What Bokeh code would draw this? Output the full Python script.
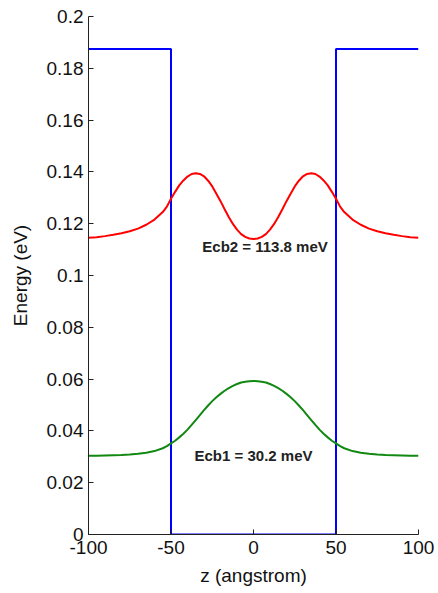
from bokeh.plotting import figure
from bokeh.models import FixedTicker, CustomJSTickFormatter, Range1d, Label
from bokeh.embed import file_html
from bokeh.resources import INLINE

# Potential well (conduction band edge)
well_z = [-100, -50, -50, 50, 50, 100]
well_e = [0.1875, 0.1875, 0.0, 0.0, 0.1875, 0.1875]

# Sampled positions (angstrom)
z = [-100, -95, -90, -85, -80, -75, -70, -65, -60, -55, -52.5, -50, -47.5, -45, -42.5, -40, -37.5,
     -35, -32.5, -30, -27.5, -25, -22.5, -20, -17.5, -15, -12.5, -10, -7.5, -5, -2.5,
     0, 2.5, 5, 7.5, 10, 12.5, 15, 17.5, 20, 22.5, 25, 27.5, 30, 32.5, 35,
     37.5, 40, 42.5, 45, 47.5, 50, 52.5, 55, 60, 65, 70, 75, 80, 85, 90, 95, 100]

# Second level (red): |psi2|^2 offset by Ecb2
ecb2 = [0.1146, 0.1148, 0.1152, 0.1157, 0.1163, 0.1171, 0.1181, 0.1196, 0.1216, 0.1245, 0.1266, 0.1296,
        0.1323, 0.1348, 0.1367, 0.1382, 0.1392, 0.1395, 0.1392, 0.1383, 0.1366, 0.1344, 0.1316,
        0.1287, 0.1256, 0.1226, 0.1199, 0.1177, 0.1160, 0.1149, 0.1143,
        0.1141,
        0.1143, 0.1149, 0.1160, 0.1177, 0.1199, 0.1226, 0.1256, 0.1287, 0.1316, 0.1344, 0.1366,
        0.1383, 0.1392, 0.1395, 0.1392, 0.1382, 0.1367, 0.1348, 0.1323,
        0.1296, 0.1266, 0.1245, 0.1216, 0.1196, 0.1181, 0.1171, 0.1163, 0.1157, 0.1152, 0.1148, 0.1146]

# First level (green): |psi1|^2 offset by Ecb1
ecb1 = [0.0304, 0.0304, 0.0305, 0.0306, 0.0307, 0.0309, 0.0312, 0.0316, 0.0322, 0.0333, 0.0341, 0.0352,
        0.0362, 0.0375, 0.0389, 0.0405, 0.0423, 0.0442, 0.0461, 0.0480, 0.0498, 0.0515, 0.0530,
        0.0543, 0.0555, 0.0565, 0.0574, 0.0581, 0.0587, 0.0590, 0.0592,
        0.0593,
        0.0592, 0.0590, 0.0587, 0.0581, 0.0574, 0.0565, 0.0555, 0.0543, 0.0530, 0.0515, 0.0498,
        0.0480, 0.0461, 0.0442, 0.0423, 0.0405, 0.0389, 0.0375, 0.0362,
        0.0352, 0.0341, 0.0333, 0.0322, 0.0316, 0.0312, 0.0309, 0.0307, 0.0306, 0.0305, 0.0304, 0.0304]

x_ticks = [-100, -50, 0, 50, 100]
y_ticks = [0, 0.02, 0.04, 0.06, 0.08, 0.1, 0.12, 0.14, 0.16, 0.18, 0.2]

labels = ["Ecb2 = 113.8 meV", "Ecb1 = 30.2 meV"]
label_z = [7, 0]
label_e = [0.1113, 0.0305]

FONT = "Liberation Sans"

p = figure(width=438, height=593, output_backend="svg", toolbar_location=None,
           x_range=Range1d(-100, 100), y_range=Range1d(0, 0.2),
           min_border_left=88, min_border_right=20, min_border_top=16, min_border_bottom=59)
p.outline_line_color = None
p.grid.visible = False
p.background_fill_color = "white"
p.border_fill_color = "white"

p.line(well_z, well_e, line_color="#0000ff", line_width=2)
p.line(z, ecb2, line_color="#ff0000", line_width=2)
p.line(z, ecb1, line_color="#118811", line_width=2)

for t, xx, yy in zip(labels, label_z, label_e):
    p.add_layout(Label(x=xx, y=yy, text=t, text_align="center", text_baseline="middle",
                       text_font=FONT, text_font_style="bold", text_font_size="15px",
                       text_color="#222222"))

p.xaxis.ticker = FixedTicker(ticks=x_ticks)
p.yaxis.ticker = FixedTicker(ticks=y_ticks)
p.xaxis.formatter = CustomJSTickFormatter(code="return String(tick);")
p.yaxis.formatter = CustomJSTickFormatter(
    code="return tick.toFixed(2).replace(/0+$/,'').replace(/\\.$/,'');")

for ax in (p.xaxis[0], p.yaxis[0]):
    ax.major_tick_in = 5
    ax.major_tick_out = 0
    ax.minor_tick_line_color = None
    ax.axis_line_color = "#222222"
    ax.major_tick_line_color = "#222222"
    ax.major_label_text_font = FONT
    ax.major_label_text_font_size = "19px"
    ax.major_label_text_color = "#111111"
    ax.axis_label_text_font = FONT
    ax.axis_label_text_font_size = "19px"
    ax.axis_label_text_font_style = "normal"
    ax.axis_label_text_color = "#111111"

p.xaxis.axis_label = "z (angstrom)"
p.yaxis.axis_label = "Energy (eV)"
p.xaxis.major_label_standoff = 6
p.yaxis.major_label_standoff = 5
p.xaxis.axis_label_standoff = 8
p.yaxis.axis_label_standoff = 13

open("out.html", "w").write(file_html(p, INLINE))
